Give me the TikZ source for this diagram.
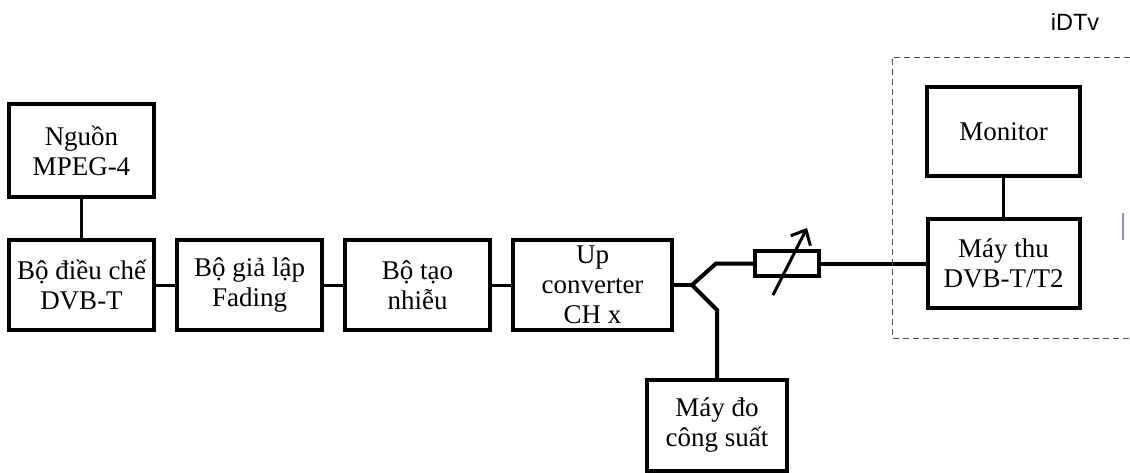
\documentclass[tikz,border=0pt]{standalone}
\usepackage{fontspec}
\setmainfont{Liberation Serif}
\newfontfamily\labelsans{Liberation Sans}
\usetikzlibrary{positioning,arrows.meta}
\definecolor{barblue}{RGB}{140,140,200}

\begin{document}
\begin{tikzpicture}[x=1pt,y=1pt,
	main/.style = {draw, line width=4pt, rectangle, inner sep=0pt, outer sep=0pt,
		minimum width=145pt, minimum height=90pt, align=center,
		font=\fontsize{27}{30}\selectfont},
	conn/.style = {line width=3pt},
	thin/.style = {line width=2.2pt},
	feed/.style = {line width=4pt, line join=miter}]
	\useasboundingbox (0,0) rectangle (1130,-472);
	\node[main] (2) at (81.5,-285) {Bộ điều chế\\DVB-T};
	\node[main, minimum height=93pt] (1) [above=43pt of 2] {Nguồn\\MPEG-4};
	\node[main] (3) [right=23pt of 2] {Bộ giả lập\\Fading};
	\node[main] (4) [right=23pt of 3] {Bộ tạo\\nhiễu};
	\node[main, minimum width=159pt] (5) [right=23pt of 4] {Up\\converter\\CH x};
	\node[main, minimum width=64pt, minimum height=25pt, line width=3.5pt] (6) at (787,-263.5) {};
	\node[main, minimum width=140pt, minimum height=91pt] (7) at (717,-425.5) {Máy đo\\công suất};
	\node[main, minimum width=152pt, minimum height=89pt] (8) at (1003.5,-263.5) {Máy thu\\DVB-T/T2};
	\node[main, minimum width=153pt, minimum height=89pt] (9) [above=43pt of 8] {Monitor};
	\node[font=\fontsize{23.5}{25}\labelsans] (10) at (1075,-22) {iDTv};
	\coordinate (s) at (692,-285);
	\coordinate (s1) at (716,-263.5);
	\coordinate (s2) at (717,-310);
	\coordinate (a1) at (773,-295);
	\coordinate (a2) at (807,-228);
	\draw[thin] (1) -- (2);
	\draw[conn] (2) -- (3);
	\draw[conn] (3) -- (4);
	\draw[conn] (4) -- (5);
	\draw[feed] (5) -- (s);
	\draw[feed] (s) -- (s1) -- (6);
	\draw[feed] (s) -- (s2) -- (7);
	\draw[feed] (6) -- (8);
	\draw[thin] (9) -- (8);
	\draw[line width=3pt, -{Straight Barb[length=12pt, width=22pt]}] (a1) -- (a2);
	\draw[dashed, line width=1pt, dash pattern=on 6pt off 4pt, black!70] (1130,-57) -- (892,-57) -- (892,-338) -- (1130,-338);
	\draw[barblue, line width=1.5pt] (1123,-213) -- (1123,-240);
\end{tikzpicture}
\end{document}
